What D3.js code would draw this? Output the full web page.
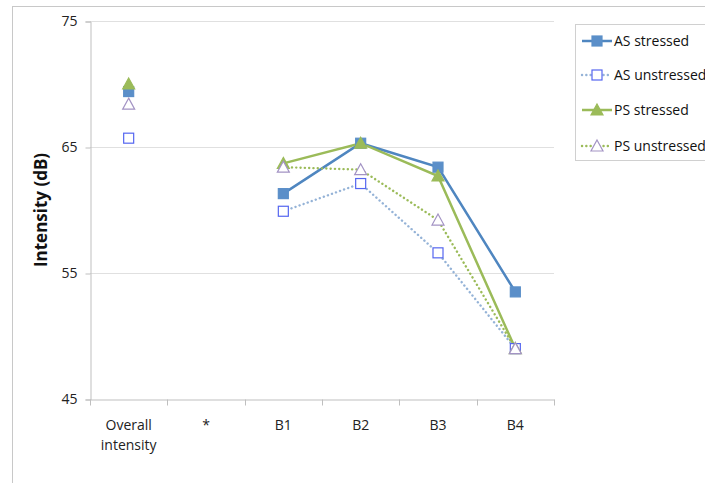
<!DOCTYPE html>
<html><head><meta charset="utf-8">
<script src="https://cdn.jsdelivr.net/npm/d3@7"></script>
<style>body{margin:0;background:#fff;}svg{display:block;font-family:"Open Sans","Noto Sans",sans-serif;}</style>
</head><body><svg id="c" width="705" height="483"></svg>
<script>
const categories = ["Overall intensity", "*", "B1", "B2", "B3", "B4"];
const asStressed   = [69.4, null, 61.3, 65.3, 63.4, 53.5];
const asUnstressed = [65.7, null, 59.9, 62.1, 56.6, 49.0];
const psStressed   = [70.0, null, 63.7, 65.3, 62.7, 49.0];
const psUnstressed = [68.4, null, 63.4, 63.2, 59.2, 49.0];
const yTicks = [45, 55, 65, 75];
const seriesNames = ["AS stressed", "AS unstressed", "PS stressed", "PS unstressed"];

const svg = d3.select("#c");
const L = 90, R = 554, T = 21, B = 399;

svg.append("rect").attr("x", 12.5).attr("y", 6.5).attr("width", 720).attr("height", 500)
  .attr("fill", "none").attr("stroke", "#c8c8c8");

const x = d3.scaleBand().domain(categories).range([L, R]);
const y = d3.scaleLinear().domain([45, 75]).range([B, T]);

svg.append("g").selectAll("line").data(yTicks.filter(t => t > 45)).join("line")
  .attr("x1", L).attr("x2", R).attr("y1", d => y(d) + 0.5).attr("y2", d => y(d) + 0.5)
  .attr("stroke", "#e0e0e0");

const ya = svg.append("g").attr("transform", `translate(${L + 0.5},0.5)`)
  .call(d3.axisLeft(y).tickValues(yTicks).tickSize(5).tickPadding(8));
ya.select(".domain").attr("stroke", "#bfbfbf");
ya.selectAll(".tick line").attr("stroke", "#bfbfbf");
ya.selectAll("text").attr("font-size", 14).attr("fill", "#222").attr("font-family", "Open Sans");

const xa = svg.append("g").attr("transform", `translate(0,${B + 0.5})`)
  .call(d3.axisBottom(x).tickSize(0).tickFormat(""));
xa.select(".domain").attr("stroke", "#bfbfbf");
xa.selectAll(".tick").remove();
const bounds = categories.map(c => x(c)).concat([R]);
xa.selectAll("line.bt").data(bounds).join("line").attr("class", "bt")
  .attr("x1", d => Math.round(d) + 0.5).attr("x2", d => Math.round(d) + 0.5)
  .attr("y1", 0).attr("y2", 6).attr("stroke", "#bfbfbf");
categories.forEach(c => {
  const parts = c === "Overall intensity" ? ["Overall", "intensity"] : [c];
  const t = svg.append("text").attr("x", x(c) + x.bandwidth() / 2).attr("y", 430)
    .attr("text-anchor", "middle").attr("font-size", 14).attr("fill", "#222");
  parts.forEach((p, i) => t.append("tspan").attr("x", x(c) + x.bandwidth() / 2).attr("dy", i ? 20 : 0).text(p));
});

svg.append("text").attr("transform", `translate(47,210) rotate(-90)`).attr("text-anchor", "middle")
  .attr("font-size", 17).attr("font-weight", "bold").attr("fill", "#111").text("Intensity (dB)");

const cx = c => x(c) + x.bandwidth() / 2;
const line = d3.line().defined(d => d.v != null).x(d => cx(d.c)).y(d => y(d.v));
const toPts = arr => categories.map((c, i) => ({ c, v: arr[i] }));

const series = [
  { name: seriesNames[0], data: asStressed, lc: "#4f86c0", lw: 2.5, dash: null, m: "sq", fill: "#5b8fc9", stroke: "#5b8fc9" },
  { name: seriesNames[1], data: asUnstressed, lc: "#95b3d7", lw: 2.4, dash: "0.1,4.2", m: "sq", fill: "#fff", stroke: "#5566f0" },
  { name: seriesNames[2], data: psStressed, lc: "#9bbb59", lw: 2.5, dash: null, m: "tri", fill: "#9bbb59", stroke: "#9bbb59" },
  { name: seriesNames[3], data: psUnstressed, lc: "#9bbb59", lw: 2.4, dash: "0.1,4.2", m: "tri", fill: "#fff", stroke: "#a393c4" }
];
function marker(g, s, px, py) {
  if (s.m === "sq") {
    g.append("rect").attr("x", px - 5).attr("y", py - 5).attr("width", 10).attr("height", 10)
      .attr("fill", s.fill).attr("stroke", s.stroke).attr("stroke-width", 1.2);
  } else {
    g.append("path").attr("d", `M${px},${py - 6}L${px + 6},${py + 5}L${px - 6},${py + 5}Z`)
      .attr("fill", s.fill).attr("stroke", s.stroke).attr("stroke-width", 1.2);
  }
}
series.forEach(s => {
  svg.append("path").datum(toPts(s.data)).attr("d", line).attr("fill", "none")
    .attr("stroke", s.lc).attr("stroke-width", s.lw).attr("stroke-dasharray", s.dash)
    .attr("stroke-linecap", s.dash ? "round" : "butt");
});
series.forEach(s => {
  const g = svg.append("g");
  toPts(s.data).filter(d => d.v != null).forEach(d => marker(g, s, cx(d.c), y(d.v)));
});

svg.append("rect").attr("x", 575.5).attr("y", 24.5).attr("width", 200).attr("height", 136)
  .attr("fill", "#fff").attr("stroke", "#d0d0d0");
const ly = [41, 75, 110, 146];
series.forEach((s, i) => {
  const g = svg.append("g");
  g.append("line").attr("x1", 582).attr("x2", 612).attr("y1", ly[i]).attr("y2", ly[i])
    .attr("stroke", s.lc).attr("stroke-width", s.lw).attr("stroke-dasharray", s.dash)
    .attr("stroke-linecap", s.dash ? "round" : "butt");
  marker(g, s, 597, ly[i]);
  g.append("text").attr("x", 614).attr("y", ly[i] + 5).attr("font-size", 14).attr("fill", "#111").text(s.name);
});
</script></body></html>
